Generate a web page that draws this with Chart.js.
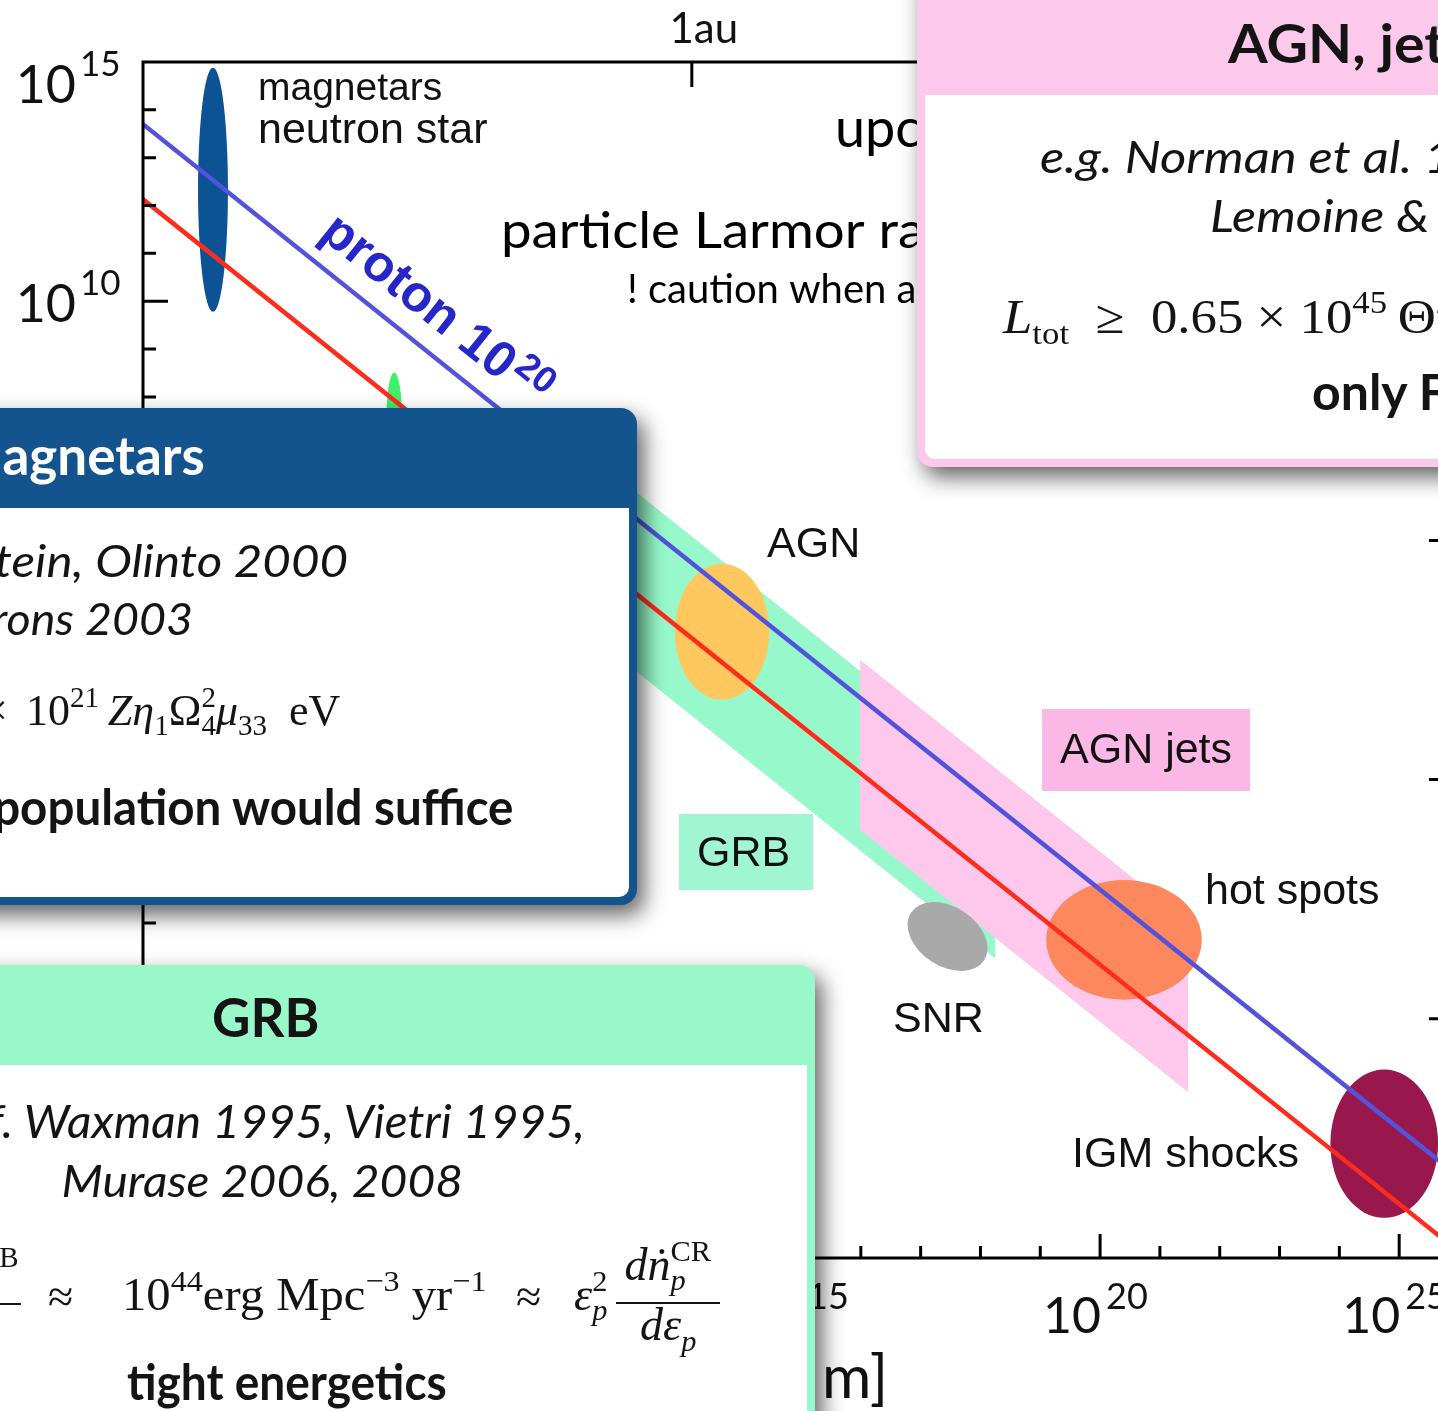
<!DOCTYPE html>
<html lang="en">
<head>
<meta charset="utf-8">
<title>Hillas diagram: candidate sources of ultra-high-energy cosmic rays</title>
<script src="https://cdn.jsdelivr.net/npm/chart.js@4.4.1/dist/chart.umd.min.js"></script>
<style>
  html, body { margin: 0; padding: 0; background: #fff; }
  body { width: 1438px; height: 1411px; overflow: hidden; position: relative; }
  #stage { position: absolute; left: 0; top: 0; width: 1438px; height: 1411px; overflow: hidden; }
  #hillas { position: absolute; left: 0; top: 0; }
  .card { position: absolute; overflow: hidden; box-shadow: 7px 10px 22px rgba(0,0,0,0.62); }
  .card .body { position: absolute; background: #fff; }
  .t { position: absolute; white-space: nowrap; line-height: 1.2; color: #141414; }
  .bl { display: inline-block; width: 0; height: 0; }
  .sup { font-size: 0.66em; position: relative; top: -0.62em; }
  .sub { font-size: 0.66em; position: relative; top: 0.35em; }
  .ss { display: inline-flex; flex-direction: column; font-size: 0.66em; line-height: 0.95; vertical-align: 0.62em; }
  .bar { position: absolute; height: 2px; background: #141414; }
</style>
</head>
<body>
<div id="stage">
  <canvas id="hillas" width="1500" height="1411" style="width:1500px;height:1411px"></canvas>

  <div class="card" style="left:-40px;top:408px;width:677px;height:497px;background:#13548e;border-radius:16px;">
    <div class="body" style="left:8px;top:100px;width:661px;height:389px;border-radius:0 0 10px 10px;"></div>
  </div>

  <div class="card" style="left:-40px;top:965px;width:855px;height:520px;background:#99f8c9;border-radius:16px;">
    <div class="body" style="left:8px;top:100px;width:839px;height:420px;"></div>
  </div>

  <div class="card" style="left:917px;top:-40px;width:600px;height:507px;background:#fcc9ec;border-radius:16px;">
    <div class="body" style="left:8px;top:135px;width:600px;height:364px;border-radius:0 0 0 10px;"></div>
  </div>
</div>

<script>
// ---------- axis ranges ----------
const radiusRange = [1e4, 1e26];     // source size R [cm]
const fieldRange = [1e-10, 1e15];    // magnetic field B [G]
const majorDecadesR = [5, 10, 15, 20, 25];
const majorDecadesB = [-10, -5, 0, 5, 10, 15];
const auRadius = 1.496e13;

// ---------- Hillas confinement lines (B * R = const) ----------
const limitRadius = [1e4, 1e26];
const protonField = [5.0e13, 5.0e-9];    // proton, 10^20 eV
const ironField = [1.35e12, 1.35e-10];   // lower line

// ---------- source bands ----------
const grbBandRadius = [1e11, 1.75e18];
const grbBandTop = [1.8e7, 1.03];
const grbBandBottom = [3.24e3, 1.85e-4];
const jetBandRadius = [9.7e15, 2.95e21];
const jetBandTop = [319, 1.05e-3];
const jetBandBottom = [0.090, 2.96e-7];

// ---------- source regions (log10 centre and half extent) ----------
const sourceNames = ['neutron star', 'white dwarf', 'AGN', 'SNR', 'hot spots', 'IGM shocks'];
const sourceLogR = [5.17, 8.20, 13.68, 17.45, 20.40, 24.75];
const sourceLogB = [12.33, 7.57, 3.09, -3.28, -3.35, -7.61];
const sourceHalfLogR = [0.25, 0.13, 0.79, 0.73, 1.30, 0.90];
const sourceHalfLogB = [2.55, 0.94, 1.42, 0.62, 1.25, 1.55];

// ---------- styling ----------
const sourceColors = ['#0b5394', '#40f06a', '#fec85e', '#a9a9a9', '#fe885e', '#98174d'];
const sourceTiltDeg = [0, 0, 0, 33, 0, 0];
const SANS = '"Liberation Sans", Arial, sans-serif';
const LATO = 'Lato, "Open Sans", sans-serif';

const pts = (xs, ys) => xs.map((v, i) => ({ x: v, y: ys[i] }));

function drawSources(chart) {
  const { ctx, chartArea: a, scales: { x, y } } = chart;
  ctx.save();
  ctx.beginPath();
  ctx.rect(a.left, a.top, a.right - a.left, a.bottom - a.top);
  ctx.clip();
  sourceNames.forEach((name, i) => {
    const cx = x.getPixelForValue(10 ** sourceLogR[i]);
    const cy = y.getPixelForValue(10 ** sourceLogB[i]);
    const rx = x.getPixelForValue(10 ** (sourceLogR[i] + sourceHalfLogR[i])) - cx;
    const ry = cy - y.getPixelForValue(10 ** (sourceLogB[i] + sourceHalfLogB[i]));
    ctx.beginPath();
    ctx.ellipse(cx, cy, rx, ry, sourceTiltDeg[i] * Math.PI / 180, 0, Math.PI * 2);
    ctx.fillStyle = sourceColors[i];
    ctx.fill();
  });
  ctx.restore();
}

function drawFrame(chart) {
  const { ctx, chartArea: a, scales: { x, y } } = chart;
  ctx.save();
  ctx.strokeStyle = '#000';
  ctx.lineWidth = 3;
  ctx.lineCap = 'butt';
  ctx.strokeRect(a.left, a.top, a.right - a.left, a.bottom - a.top);
  ctx.beginPath();
  for (let d = -9; d <= 14; d++) {
    const py = y.getPixelForValue(10 ** d);
    const major = d % 5 === 0;
    ctx.moveTo(a.left, py); ctx.lineTo(a.left + (major ? 25 : 13), py);
    if (major) { ctx.moveTo(a.right, py); ctx.lineTo(a.right - 30, py); }
  }
  for (let d = 5; d <= 25; d++) {
    const px = x.getPixelForValue(10 ** d);
    const major = d % 5 === 0;
    ctx.moveTo(px, a.bottom); ctx.lineTo(px, a.bottom - (major ? 24 : 12));
  }
  const au = x.getPixelForValue(auRadius);
  ctx.moveTo(au, a.top); ctx.lineTo(au, a.top + 25);
  ctx.stroke();
  ctx.restore();
}

function drawTickLabels(chart) {
  const { ctx, chartArea: a, scales: { x, y } } = chart;
  ctx.save();
  ctx.fillStyle = '#111';
  ctx.textBaseline = 'alphabetic';
  majorDecadesB.forEach(d => {
    const py = y.getPixelForValue(10 ** d);
    const base = Math.max(py, a.top + 20) + 21;
    ctx.font = '52px ' + LATO; ctx.textAlign = 'right';
    ctx.fillText('10', a.left - 67, base);
    ctx.font = '35px ' + LATO; ctx.textAlign = 'left';
    ctx.fillText(String(d).replace('-', '\u2212'), a.left - 63, base - 27);
  });
  majorDecadesR.forEach(d => {
    const px = x.getPixelForValue(10 ** d);
    ctx.font = '50px ' + LATO; ctx.textAlign = 'right';
    ctx.fillText('10', px + 1, a.bottom + 75);
    ctx.font = '36px ' + LATO; ctx.textAlign = 'left';
    ctx.fillText(String(d), px + 6, a.bottom + 51);
  });
  const au = x.getPixelForValue(auRadius);
  ctx.font = '42px ' + LATO; ctx.textAlign = 'center';
  ctx.fillText('1au', au + 12, a.top - 19);
  // axis title, set with a little extra tracking before the closing unit
  ctx.font = '60px ' + LATO; ctx.textAlign = 'right';
  ctx.fillText('m]', 888, a.bottom + 140);
  ctx.fillText('R [c', 812, a.bottom + 140);
  ctx.restore();
}

function drawNotes(chart) {
  const { ctx } = chart;
  ctx.save();
  ctx.textBaseline = 'alphabetic';
  ctx.textAlign = 'left';
  // tag backgrounds
  ctx.fillStyle = '#fbb7e5'; ctx.fillRect(1042, 709, 208, 82);
  ctx.fillStyle = '#a0f5d2'; ctx.fillRect(679, 814, 134, 76);
  ctx.fillStyle = '#111';
  const notes = [
    ['magnetars', 258, 100, 39], ['neutron star', 258, 143, 43],
    ['AGN', 767, 557, 43], ['AGN jets', 1060, 763, 43], ['GRB', 697, 866, 43],
    ['hot spots', 1205, 904, 43], ['SNR', 893, 1032, 43], ['IGM shocks', 1072, 1167, 43]
  ];
  notes.forEach(([t, px, py, s]) => { ctx.font = s + 'px ' + SANS; ctx.fillText(t, px, py); });
  ctx.fillStyle = '#000';
  ctx.font = '54px ' + LATO; ctx.fillText('upcoming', 835, 147);
  ctx.save();
  ctx.translate(501, 248); ctx.scale(1.07, 1);
  ctx.font = '51px ' + LATO; ctx.fillText('particle Larmor radius', 0, 0);
  ctx.restore();
  ctx.font = '40px ' + LATO; ctx.fillText('! caution when applying', 627, 303);
  ctx.restore();
}

function drawProtonLabel(chart) {
  const { ctx, scales: { x, y } } = chart;
  const p0 = { x: x.getPixelForValue(limitRadius[0]), y: y.getPixelForValue(protonField[0]) };
  const p1 = { x: x.getPixelForValue(limitRadius[1]), y: y.getPixelForValue(protonField[1]) };
  const ang = Math.atan2(p1.y - p0.y, p1.x - p0.x);
  const t = (6.70 - Math.log10(limitRadius[0])) / (Math.log10(limitRadius[1]) - Math.log10(limitRadius[0]));
  const ox = p0.x + (p1.x - p0.x) * t + 22 * Math.sin(ang);
  const oy = p0.y + (p1.y - p0.y) * t - 22 * Math.cos(ang);
  ctx.save();
  ctx.translate(ox, oy);
  ctx.rotate(ang);
  ctx.fillStyle = '#2727c9';
  ctx.textBaseline = 'alphabetic';
  ctx.font = 'bold 51px ' + SANS;
  ctx.fillText('proton 10', 0, 0);
  const w = ctx.measureText('proton 10').width;
  ctx.font = 'bold 37px ' + SANS;
  ctx.fillText('20', w + 3, -17);
  ctx.restore();
}

const hillasDecor = {
  id: 'hillasDecor',
  beforeDraw(chart) { chart.$sourcesDone = false; },
  beforeDatasetDraw(chart, args) {
    if (args.index === 1 && !chart.$sourcesDone) { drawSources(chart); chart.$sourcesDone = true; }
  },
  afterDatasetsDraw(chart) {
    drawFrame(chart);
    drawTickLabels(chart);
    drawNotes(chart);
    drawProtonLabel(chart);
  }
};

const bandEdge = (label, data, extra) => Object.assign({
  label, data, showLine: true, pointRadius: 0, borderWidth: 1,
  borderColor: 'rgba(0,0,0,0)', fill: false
}, extra);

new Chart(document.getElementById('hillas'), {
  type: 'scatter',
  data: {
    datasets: [
      { label: 'proton 10^20 eV', data: pts(limitRadius, protonField), showLine: true, pointRadius: 0,
        borderColor: '#5252dc', borderWidth: 4.5, fill: false, order: 0 },
      { label: 'iron 10^20 eV', data: pts(limitRadius, ironField), showLine: true, pointRadius: 0,
        borderColor: '#ff2b1b', borderWidth: 4.5, fill: false, order: 1 },
      bandEdge('AGN jets (upper)', pts(jetBandRadius, jetBandTop), { fill: '+1', backgroundColor: '#fdc8ec', order: 2 }),
      bandEdge('AGN jets (lower)', pts(jetBandRadius, jetBandBottom), { order: 2 }),
      bandEdge('GRB (upper)', pts(grbBandRadius, grbBandTop), { fill: '+1', backgroundColor: '#97f9cb', order: 3 }),
      bandEdge('GRB (lower)', pts(grbBandRadius, grbBandBottom), { order: 3 })
    ]
  },
  options: {
    responsive: false,
    animation: false,
    events: [],
    devicePixelRatio: 1,
    layout: { padding: { left: 143, top: 62, right: 41, bottom: 153 } },
    scales: {
      x: { type: 'logarithmic', min: radiusRange[0], max: radiusRange[1], display: false },
      y: { type: 'logarithmic', min: fieldRange[0], max: fieldRange[1], display: false }
    },
    plugins: { legend: { display: false }, tooltip: { enabled: false } }
  },
  plugins: [hillasDecor]
});

// ---------- text in the summary cards ----------
const stage = document.getElementById('stage');
function put(html, o) {
  const el = document.createElement('div');
  el.className = 't';
  el.style.fontFamily = o.family || LATO;
  el.style.fontSize = o.size + 'px';
  el.style.fontWeight = o.weight || 400;
  el.style.fontStyle = o.italic ? 'italic' : 'normal';
  if (o.color) el.style.color = o.color;
  el.innerHTML = html + '<span class="bl"></span>';
  stage.appendChild(el);
  const w = el.offsetWidth;
  const base = el.querySelector('.bl').offsetTop;
  const anchor = o.anchor || 'left';
  const sx = o.w ? o.w / w : (o.sx || 1);
  const left = anchor === 'left' ? o.x : anchor === 'right' ? o.x - w : o.x - w / 2;
  el.style.left = left + 'px';
  el.style.top = (o.y - base) + 'px';
  if (sx !== 1) {
    el.style.transformOrigin = (anchor === 'left' ? '0%' : anchor === 'right' ? '100%' : '50%') + ' 0';
    el.style.transform = 'scaleX(' + sx + ')';
  }
  return el;
}
function rule(x0, x1, yy) {
  const el = document.createElement('div');
  el.className = 'bar';
  el.style.left = x0 + 'px'; el.style.width = (x1 - x0) + 'px'; el.style.top = (yy - 1) + 'px';
  stage.appendChild(el);
}
const SERIF = '"Liberation Serif", "DejaVu Serif", serif';

// Magnetars
put('Magnetars', { x: 205, y: 475, size: 53, weight: 700, anchor: 'right', color: '#fff' });
put('e.g. Blasi, Epstein, Olinto 2000', { x: 348, y: 577, size: 44, italic: true, anchor: 'right', sx: 1.12 });
put('Arons 2003', { x: 193, y: 635, size: 44, italic: true, anchor: 'right', sx: 1.06 });
put('<i>E</i><span class="sub">max</span> &asymp; 3 &times;', { x: 8, y: 725, size: 44, family: SERIF, anchor: 'right' });
put('10<span class="sup">21</span>&thinsp;<i>Z&eta;</i><span class="sub">1</span>&Omega;<span class="ss"><span>2</span><span>4</span></span><i>&mu;</i><span class="sub">33</span>&nbsp; eV',
    { x: 26, y: 725, size: 44, family: SERIF });
put('a small population would suffice', { x: 513, y: 825, size: 50, weight: 700, anchor: 'right', sx: 0.95 });

// GRB
put('GRB', { x: 266, y: 1037, size: 54, weight: 700, anchor: 'center', w: 108 });
put('cf. Waxman 1995, Vietri 1995,', { x: 585, y: 1138, size: 46, italic: true, anchor: 'right', sx: 1.04 });
put('Murase 2006, 2008', { x: 262, y: 1197, size: 44, italic: true, anchor: 'center', w: 401 });
put('<i>E</i><span class="sup">GRB</span>', { x: 19, y: 1285, size: 44, family: SERIF, anchor: 'right' });
rule(-80, 21, 1304);
put('&asymp;', { x: 48, y: 1312, size: 46, family: SERIF });
put('10<span class="sup">44</span>erg Mpc<span class="sup">&minus;3</span> yr<span class="sup">&minus;1</span>',
    { x: 122, y: 1310, size: 46, family: SERIF, w: 365 });
put('&asymp;', { x: 516, y: 1312, size: 46, family: SERIF });
put('<i>&epsilon;</i><span class="ss"><span>2</span><i>p</i></span>', { x: 574, y: 1310, size: 46, family: SERIF });
put('<i>d&#7749;</i><span class="ss"><span>CR</span><i>p</i></span>', { x: 668, y: 1280, size: 46, family: SERIF, anchor: 'center' });
rule(616, 720, 1303);
put('<i>d&epsilon;</i><span class="sub"><i>p</i></span>', { x: 668, y: 1340, size: 46, family: SERIF, anchor: 'center' });
put('tight energetics', { x: 127, y: 1400, size: 50, weight: 700, w: 320 });

// AGN, jets
put('AGN, jets', { x: 1228, y: 63, size: 54, weight: 700, sx: 1.06 });
put('e.g. Norman et al. 1995,', { x: 1040, y: 173, size: 45, italic: true, sx: 1.13 });
put('Lemoine &amp; Waxman 2009', { x: 1210, y: 232, size: 45, italic: true, sx: 1.12 });
put('<i>L</i><span class="sub">tot</span>&ensp;&ge;&ensp;0.65 &times; 10<span class="sup">45</span>&thinsp;&Theta;<span class="sup">2</span>&Gamma;<span class="sup">2</span>',
    { x: 1003, y: 333, size: 48, family: SERIF, sx: 1.1 });
put('only FR II', { x: 1312, y: 410, size: 50, weight: 700 });
</script>
</body>
</html>
